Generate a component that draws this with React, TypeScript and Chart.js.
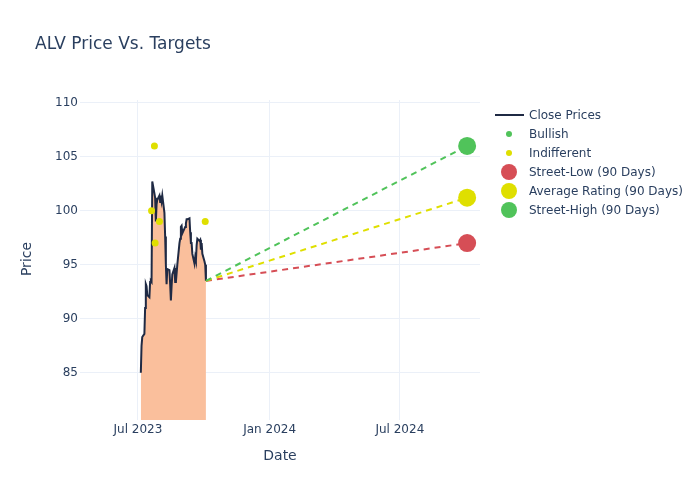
import React, { useEffect, useRef } from 'react';
import { Chart, registerables } from 'chart.js';

Chart.register(...registerables);

const closeDates = [
  '2023-07-05', '2023-07-06', '2023-07-07', '2023-07-10', '2023-07-11', '2023-07-12', '2023-07-13', '2023-07-14',
  '2023-07-17', '2023-07-18', '2023-07-19', '2023-07-20', '2023-07-21', '2023-07-24', '2023-07-25', '2023-07-26',
  '2023-07-27', '2023-07-28', '2023-07-31', '2023-08-01', '2023-08-02', '2023-08-03', '2023-08-04', '2023-08-07',
  '2023-08-08', '2023-08-09', '2023-08-10', '2023-08-11', '2023-08-14', '2023-08-15', '2023-08-16', '2023-08-17',
  '2023-08-18', '2023-08-21', '2023-08-22', '2023-08-23', '2023-08-24', '2023-08-25', '2023-08-28', '2023-08-29',
  '2023-08-30', '2023-08-31', '2023-09-01', '2023-09-05', '2023-09-06', '2023-09-07', '2023-09-08', '2023-09-11',
  '2023-09-12', '2023-09-13', '2023-09-14', '2023-09-15', '2023-09-18', '2023-09-19', '2023-09-20', '2023-09-21',
  '2023-09-22', '2023-09-25', '2023-09-26', '2023-09-27', '2023-09-28', '2023-09-29', '2023-10-02', '2023-10-03',
  '2023-10-04',
];
const closePrices = [
  85.0, 87.5, 88.3, 88.6, 91.0, 93.2, 93.0, 92.2,
  92.0, 93.4, 93.5, 93.4, 102.7, 101.6, 101.2, 99.0,
  100.6, 101.0, 101.4, 100.8, 101.4, 100.9, 101.4, 99.8,
  97.6, 95.0, 93.2, 94.6, 94.5, 93.2, 91.7, 93.0,
  94.1, 94.7, 93.4, 94.7, 94.2, 95.0, 97.0, 97.4,
  98.5, 98.6, 97.9, 98.5, 98.8, 99.2, 99.2, 99.3,
  98.0, 97.0, 97.0, 96.0, 95.1, 95.7, 95.4, 96.8,
  97.4, 97.2, 97.3, 96.4, 97.0, 96.0, 95.3, 95.0,
  93.5,
];

const bullishDates: string[] = [];
const bullishTargets: number[] = [];
const indifferentDates = ['2023-07-20', '2023-07-24', '2023-07-25', '2023-07-31', '2023-10-03'];
const indifferentTargets = [100, 106, 97, 99, 99];

const targetDate = '2024-10-03';
const streetLow = 97;
const averageRating = 101.2;
const streetHigh = 106;

const xTickDates = ['2023-07-01', '2024-01-01', '2024-07-01'];
const xTickLabels = ['Jul 2023', 'Jan 2024', 'Jul 2024'];
const yTicks = [85, 90, 95, 100, 105, 110];

const X_MIN = Date.parse('2023-04-11');
const X_MAX = Date.parse('2024-10-21');
const Y_MIN = 80.62;
const Y_MAX = 110.25;

const TEXT = '#2a3f5f';
const GRID = '#ebf0f8';
const LINE = '#1f2a44';
const FILL = 'rgb(250,191,156)';
const GREEN = '#50c35a';
const YELLOW = '#dfdf00';
const RED = '#d64e56';
const FONT = '"DejaVu Sans", sans-serif';

const pts = (dates: string[], vals: number[]) => dates.map((dt, i) => ({ x: Date.parse(dt), y: vals[i] }));

export default function App() {
  const ref = useRef<HTMLCanvasElement | null>(null);

  useEffect(() => {
    if (!ref.current) return;
    const lastX = Date.parse(closeDates[closeDates.length - 1]);
    const lastY = closePrices[closePrices.length - 1];
    const tx = Date.parse(targetDate);

    const overlay = {
      id: 'overlay',
      afterDraw(chart: any) {
        const ctx = chart.ctx;
        ctx.save();
        ctx.fillStyle = TEXT;
        ctx.font = `17px ${FONT}`;
        ctx.textAlign = 'left';
        ctx.textBaseline = 'middle';
        ctx.fillText('ALV Price Vs. Targets', 35, 45);

        ctx.font = `14px ${FONT}`;
        ctx.textAlign = 'center';
        ctx.fillText('Date', 280, 456);
        ctx.save();
        ctx.translate(27, 259);
        ctx.rotate(-Math.PI / 2);
        ctx.fillText('Price', 0, 0);
        ctx.restore();

        const items = [
          { label: 'Close Prices', kind: 'line', color: LINE, r: 0 },
          { label: 'Bullish', kind: 'dot', color: GREEN, r: 3 },
          { label: 'Indifferent', kind: 'dot', color: YELLOW, r: 3 },
          { label: 'Street-Low (90 Days)', kind: 'dot', color: RED, r: 8 },
          { label: 'Average Rating (90 Days)', kind: 'dot', color: YELLOW, r: 8 },
          { label: 'Street-High (90 Days)', kind: 'dot', color: GREEN, r: 8 },
        ];
        ctx.font = `12px ${FONT}`;
        ctx.textAlign = 'left';
        items.forEach((it, i) => {
          const y = 115 + i * 19;
          if (it.kind === 'line') {
            ctx.strokeStyle = it.color;
            ctx.lineWidth = 2;
            ctx.beginPath();
            ctx.moveTo(495, y);
            ctx.lineTo(524, y);
            ctx.stroke();
          } else {
            ctx.fillStyle = it.color;
            ctx.beginPath();
            ctx.arc(509, y, it.r, 0, Math.PI * 2);
            ctx.fill();
          }
          ctx.fillStyle = TEXT;
          ctx.fillText(it.label, 529, y + 1);
        });
        ctx.restore();
      },
    };

    const chart = new Chart(ref.current, {
      type: 'line',
      data: {
        datasets: [
          {
            type: 'scatter', label: 'Street-High (90 Days)', data: [{ x: tx, y: streetHigh }],
            backgroundColor: GREEN, borderWidth: 0, pointRadius: 9,
          },
          {
            type: 'scatter', label: 'Average Rating (90 Days)', data: [{ x: tx, y: averageRating }],
            backgroundColor: YELLOW, borderWidth: 0, pointRadius: 9,
          },
          {
            type: 'scatter', label: 'Street-Low (90 Days)', data: [{ x: tx, y: streetLow }],
            backgroundColor: RED, borderWidth: 0, pointRadius: 9,
          },
          {
            type: 'scatter', label: 'Indifferent', data: pts(indifferentDates, indifferentTargets),
            backgroundColor: YELLOW, borderWidth: 0, pointRadius: 3.5,
          },
          {
            type: 'scatter', label: 'Bullish', data: pts(bullishDates, bullishTargets),
            backgroundColor: GREEN, borderWidth: 0, pointRadius: 3.5,
          },
          {
            type: 'line', label: 'high-line', data: [{ x: lastX, y: lastY }, { x: tx, y: streetHigh }],
            borderColor: GREEN, borderWidth: 2, borderDash: [6, 5], pointRadius: 0, fill: false,
          },
          {
            type: 'line', label: 'avg-line', data: [{ x: lastX, y: lastY }, { x: tx, y: averageRating }],
            borderColor: YELLOW, borderWidth: 2, borderDash: [6, 5], pointRadius: 0, fill: false,
          },
          {
            type: 'line', label: 'low-line', data: [{ x: lastX, y: lastY }, { x: tx, y: streetLow }],
            borderColor: RED, borderWidth: 2, borderDash: [6, 5], pointRadius: 0, fill: false,
          },
          {
            type: 'line', label: 'Close Prices', data: pts(closeDates, closePrices),
            borderColor: LINE, borderWidth: 2, pointRadius: 0, fill: 'start', backgroundColor: FILL,
            tension: 0,
          },
        ],
      },
      options: {
        responsive: false,
        animation: false,
        devicePixelRatio: 1,
        layout: { padding: { left: 0, right: 220, top: 100, bottom: 0 } },
        plugins: {
          legend: { display: false },
          title: { display: false },
          tooltip: { enabled: false },
        },
        scales: {
          x: {
            type: 'linear',
            min: X_MIN,
            max: X_MAX,
            border: { display: false },
            grid: { color: GRID, lineWidth: 1, drawTicks: false },
            afterBuildTicks: (scale: any) => {
              scale.ticks = xTickDates.map((d) => ({ value: Date.parse(d) }));
            },
            afterFit: (scale: any) => { scale.height = 80; },
            ticks: {
              padding: 3,
              color: TEXT,
              font: { family: FONT, size: 12 },
              maxRotation: 0,
              autoSkip: false,
              callback: (v: any) => {
                const i = xTickDates.findIndex((d) => Date.parse(d) === v);
                return i >= 0 ? xTickLabels[i] : '';
              },
            },
          },
          y: {
            type: 'linear',
            min: Y_MIN,
            max: Y_MAX,
            border: { display: false },
            grid: { color: GRID, lineWidth: 1, drawTicks: false },
            afterBuildTicks: (scale: any) => {
              scale.ticks = yTicks.map((v) => ({ value: v }));
            },
            afterFit: (scale: any) => { scale.width = 80; },
            ticks: {
              padding: 2,
              color: TEXT,
              font: { family: FONT, size: 12 },
              callback: (v: any) => String(v),
            },
          },
        },
      },
      plugins: [overlay],
    } as any);

    return () => chart.destroy();
  }, []);

  return (
    <div style={{ position: 'absolute', left: 0, top: 0, width: 700, height: 500, background: '#fff' }}>
      <canvas ref={ref} width={700} height={500} style={{ display: 'block', width: 700, height: 500 }} />
    </div>
  );
}
